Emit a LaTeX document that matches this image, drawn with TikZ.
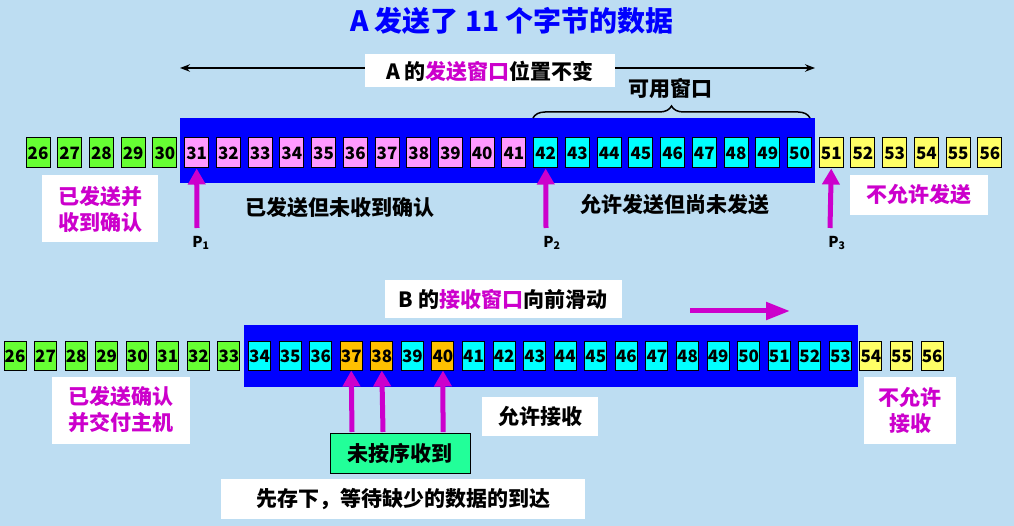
\documentclass[tikz,border=0pt]{standalone}
\usepackage{fontspec}
\setmainfont{Noto Sans CJK SC}[BoldFont={* Black}]
\usetikzlibrary{decorations.pathreplacing,arrows.meta}
\definecolor{bg}{HTML}{BDDDF2}
\definecolor{cg}{HTML}{66FF33}
\definecolor{cp}{HTML}{FF99FF}
\definecolor{cc}{HTML}{00FFFF}
\definecolor{cy}{HTML}{FFFF66}
\definecolor{co}{HTML}{FFC000}
\definecolor{mg}{HTML}{CC00CC}
\definecolor{gb}{HTML}{22FF99}
\begin{document}
\begin{tikzpicture}[x=1pt,y=-1pt,
 cell/.style={draw=black,line width=1pt,minimum width=24pt,minimum height=30pt,inner sep=0pt,font=\bfseries\fontsize{17}{17}\selectfont},
 cellb/.style={cell,minimum width=22pt,minimum height=28pt},
 wbox/.style={fill=white,inner sep=0pt},
 lbl/.style={font=\bfseries\fontsize{21}{26}\selectfont,align=center},
 plbl/.style={font=\bfseries\fontsize{15}{15}\selectfont},
 up/.style={draw=mg,line width=5pt,-{Triangle[length=16pt,width=17pt]}}]
\fill[bg] (0,0) rectangle (1014,526);
\node[font=\bfseries\fontsize{28}{28}\selectfont,text=blue] (title) at (512,21) {A 发送了 11 个字节的数据};
% top
\coordinate (tl) at (180,68); \coordinate (tr) at (815,68);
\draw[line width=1.5pt,{Stealth[length=10pt]}-{Stealth[length=10pt]}] (tl) -- (tr);
\node[wbox,minimum width=250pt,minimum height=33pt,lbl] (tlab) at (490,71) {A 的\textcolor{mg}{发送窗口}位置不变};
\fill[blue] (180,118) rectangle (815,183);
\draw[line width=1.5pt,decorate,decoration={brace,amplitude=12pt}] (533,118) -- (810,118);
\node[lbl] (avail) at (670,89) {可用窗口};
\foreach \n in {26,...,56}{
  \pgfmathtruncatemacro{\i}{\n-26}
  \ifnum\n<31 \def\cl{cg}\else\ifnum\n<42 \def\cl{cp}\else\ifnum\n<51 \def\cl{cc}\else\def\cl{cy}\fi\fi\fi
  \node[cell,fill=\cl] (t\n) at ({38+31.73*\i},153) {\n};
}
\coordinate (p1) at (197,228); \coordinate (p2) at (546,228); \coordinate (p3) at (830,228);
\draw[up] (p1) -- (t31.south);
\draw[up] (p2) -- (t42.south);
\draw[up] (p3) -- (t51.south);
\node[plbl] (lp1) at (201,243) {P\textsubscript{1}};
\node[plbl] (lp2) at (552,243) {P\textsubscript{2}};
\node[plbl] (lp3) at (837,243) {P\textsubscript{3}};
\node[lbl] (sent) at (340,208) {已发送但未收到确认};
\node[lbl] (allow) at (675,205) {允许发送但尚未发送};
\node[wbox,minimum width=116pt,minimum height=67pt,lbl,text=mg] (acked) at (100,209) {已发送并\\收到确认};
\node[wbox,minimum width=138pt,minimum height=40pt,lbl,text=mg] (nosend) at (919,195) {不允许发送};
% bottom
\node[wbox,minimum width=237pt,minimum height=38pt,lbl] (blab) at (503,299) {B 的\textcolor{mg}{接收窗口}向前滑动};
\coordinate (sa) at (690,311); \coordinate (sb) at (790,311);
\draw[draw=mg,line width=5pt,-{Triangle[length=24pt,width=17pt]}] (sa) -- (sb);
\fill[blue] (244,325) rectangle (858,387);
\foreach \n in {26,...,56}{
  \pgfmathtruncatemacro{\i}{\n-26}
  \ifnum\n<34 \def\cl{cg}\else\ifnum\n<54 \def\cl{cc}\else\def\cl{cy}\fi\fi
  \ifnum\n=37 \def\cl{co}\fi \ifnum\n=38 \def\cl{co}\fi \ifnum\n=40 \def\cl{co}\fi
  \node[cellb,fill=\cl] (b\n) at ({15+30.57*\i},356) {\n};
}
\node[wbox,minimum width=138pt,minimum height=67pt,lbl,text=mg] (deliv) at (121,410) {已发送确认\\并交付主机};
\node[wbox,minimum width=116pt,minimum height=39pt,lbl] (rcv) at (540,416) {允许接收};
\node[wbox,minimum width=92pt,minimum height=67pt,lbl,text=mg] (norcv) at (910,410) {不允许\\接收};
\node[draw=black,line width=1pt,fill=gb,minimum width=140pt,minimum height=40pt,lbl] (ooo) at (400,453) {未按序收到};
\coordinate (a1) at (352,432); \coordinate (a2) at (383,432); \coordinate (a3) at (443,432);
\draw[up] (a1) -- (b37.south);
\draw[up] (a2) -- (b38.south);
\draw[up] (a3) -- (b40.south);
\node[wbox,minimum width=364pt,minimum height=40pt,lbl] (store) at (403,499) {先存下，等待缺少的数据的到达};
\end{tikzpicture}
\end{document}
